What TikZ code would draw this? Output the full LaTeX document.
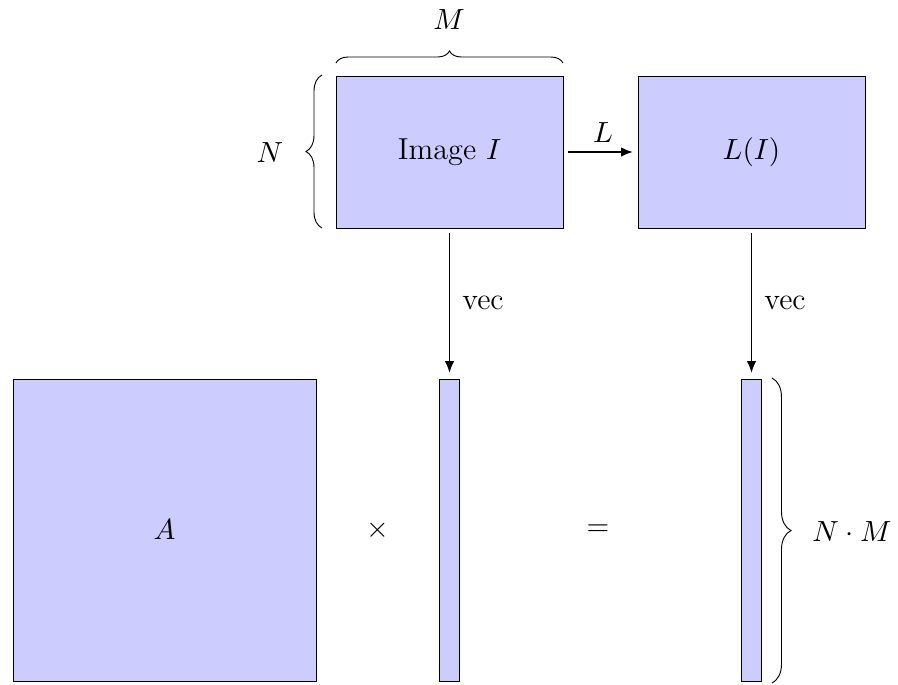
\documentclass[tikz,border=0pt]{standalone}
\usetikzlibrary{decorations.pathreplacing,arrows.meta}
\begin{document}
\begin{tikzpicture}[x=0.3759pt,y=-0.3759pt,
  every node/.style={font=\fontsize{11.4pt}{13pt}\selectfont},
  mat/.style={draw=black,line width=0.35pt,fill=blue!20,inner sep=0pt,outer sep=0pt},
  arr/.style={-{Latex[length=4.5pt,width=3.6pt]},line width=0.7pt},
  brc/.style={decorate,line width=0.35pt},
  lbl/.style={inner sep=0pt}]
\useasboundingbox (0,0) rectangle (898,684);
\node[mat,minimum width=227*0.3759pt,minimum height=152*0.3759pt] (img) at (449.5,152) {Image $I$};
\node[mat,minimum width=227*0.3759pt,minimum height=152*0.3759pt] (li) at (751.5,152) {$L(I)$};
\node[mat,minimum width=303*0.3759pt,minimum height=302*0.3759pt] (A) at (164.5,530) {$A$};
\node[mat,minimum width=20*0.3759pt,minimum height=302*0.3759pt] (v1) at (449.5,530) {};
\node[mat,minimum width=20*0.3759pt,minimum height=302*0.3759pt] (v2) at (751.5,530) {};
\node[lbl] (times) at (378,530) {$\times$};
\node[lbl] (eq) at (598,530) {$=$};
\draw[arr] ([xshift=5*0.3759pt]img.east) -- ([xshift=-5*0.3759pt]li.west);
\node[lbl] (Llbl) at (603,133) {$L$};
\draw[arr] ([yshift=-5*0.3759pt]img.south) -- ([yshift=6*0.3759pt]v1.north);
\node[lbl] (vec1) at (483,303) {vec};
\draw[arr] ([yshift=-5*0.3759pt]li.south) -- ([yshift=6*0.3759pt]v2.north);
\node[lbl] (vec2) at (785,303) {vec};
\coordinate (tb1) at (336,63);
\coordinate (tb2) at (563,63);
\draw[brc,decoration={brace,amplitude=12*0.3759pt}] (tb1) -- (tb2);
\node[lbl] (M) at (449,20) {$M$};
\coordinate (lb1) at (322,228);
\coordinate (lb2) at (322,75);
\draw[brc,decoration={brace,amplitude=16*0.3759pt}] (lb1) -- (lb2);
\node[lbl] (N) at (270,153) {$N$};
\coordinate (rb1) at (772,378);
\coordinate (rb2) at (772,683);
\draw[brc,decoration={brace,amplitude=19*0.3759pt}] (rb1) -- (rb2);
\node[lbl] (NM) at (852,532) {$N\cdot M$};
\end{tikzpicture}
\end{document}
